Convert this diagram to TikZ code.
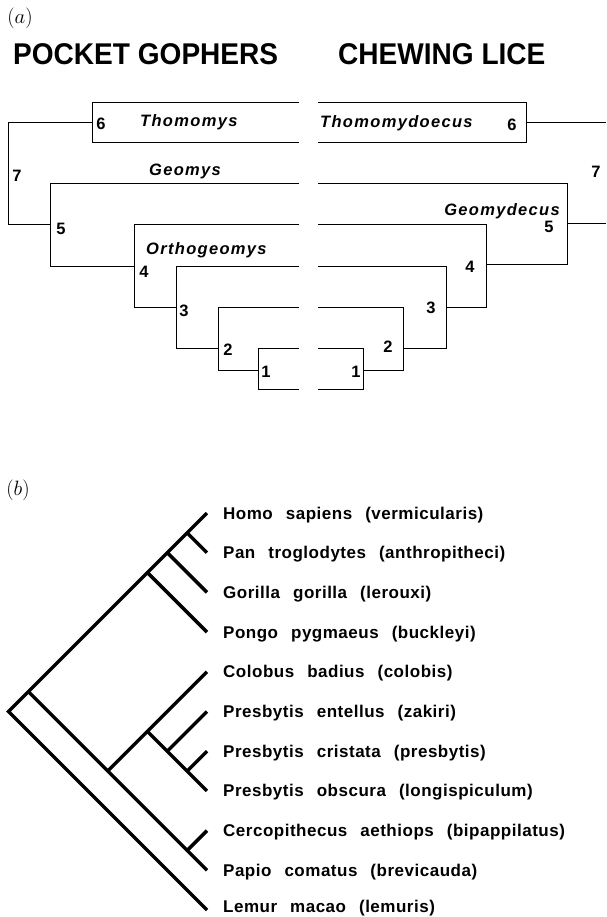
\documentclass[tikz,border=0pt]{standalone}
\usepackage{graphicx}
\usepackage{fontspec}
\setmainfont{Liberation Sans}
\newfontfamily\spacedfont[LetterSpace=8]{Liberation Sans}
\newfontfamily\hostfont[LetterSpace=3]{Liberation Sans}
\newcommand\widesp{\spaceskip=13pt\relax}
\begin{document}
\begin{tikzpicture}[x=1pt,y=-1pt,
  tree/.style={line width=1pt, line join=miter},
  clad/.style={line width=3.4pt, line join=miter},
  num/.style={font=\fontsize{16.5}{18}\selectfont\bfseries, inner sep=0pt},
  taxon/.style={font=\spacedfont\fontsize{16.5}{18}\selectfont\bfseries\itshape, inner sep=0pt, anchor=base west},
  titletext/.style={font=\fontsize{30}{32}\selectfont\bfseries, inner sep=0pt, anchor=base west},
  host/.style={font=\hostfont\fontsize{17}{19}\selectfont\bfseries, execute at begin node=\widesp, inner sep=0pt, anchor=base west},
  panel/.style={font=\fontsize{20}{22}\selectfont, inner sep=0pt}
]
\useasboundingbox[fill=white] (0,0) rectangle (606,917);

% ---------------- panel (a) ----------------
\node[panel] (pa) at (20,18) {$(a)$};
\node[titletext] (tg) at (13,65) {\scalebox{0.935}[1]{POCKET GOPHERS}};
\node[titletext] (tl) at (338,65) {\scalebox{0.935}[1]{CHEWING LICE}};

% left tree (gophers)
\draw[tree] (299,103) -- (92,103) -- (92,143) -- (299,143);
\draw[tree] (92,123) -- (8,123) -- (8,225) -- (50,225);
\draw[tree] (299,184) -- (50,184) -- (50,266) -- (134,266);
\draw[tree] (299,225) -- (134,225) -- (134,307) -- (176,307);
\draw[tree] (299,266) -- (176,266) -- (176,348) -- (218,348);
\draw[tree] (299,307) -- (218,307) -- (218,370) -- (258,370);
\draw[tree] (299,348) -- (258,348) -- (258,389) -- (299,389);

% right tree (lice)
\draw[tree] (318,103) -- (526,103) -- (526,143) -- (318,143);
\draw[tree] (526,123) -- (606,123);
\draw[tree] (318,184) -- (567,184) -- (567,264) -- (486,264);
\draw[tree] (567,224) -- (606,224);
\draw[tree] (318,225) -- (486,225) -- (486,307) -- (446,307);
\draw[tree] (318,266) -- (446,266) -- (446,348) -- (403,348);
\draw[tree] (318,307) -- (403,307) -- (403,370) -- (363,370);
\draw[tree] (318,348) -- (363,348) -- (363,389) -- (318,389);

% taxon names
\node[taxon] (thom) at (140,127) {Thomomys};
\node[taxon] (geom) at (149,176) {Geomys};
\node[taxon] (orth) at (146,254) {Orthogeomys};
\node[taxon] (thdo) at (320,128) {Thomomydoecus};
\node[taxon, anchor=base east] (gmdc) at (560,215) {Geomydecus};

% node numbers, gophers
\node[num] (g6) at (101,124) {6};
\node[num] (g7) at (17,176) {7};
\node[num] (g5) at (61,229) {5};
\node[num] (g4) at (144,272) {4};
\node[num] (g3) at (184,311) {3};
\node[num] (g2) at (228,350) {2};
\node[num] (g1) at (266,372) {1};
% node numbers, lice
\node[num] (l6) at (512,125) {6};
\node[num] (l7) at (596,172) {7};
\node[num] (l5) at (549,227) {5};
\node[num] (l4) at (470,267) {4};
\node[num] (l3) at (431,308) {3};
\node[num] (l2) at (388,347) {2};
\node[num] (l1) at (356,372) {1};

% ---------------- panel (b) ----------------
\node[panel] (pb) at (18,490) {$(b)$};

\def\tx{207}
\foreach \i in {0,...,10} {
  \coordinate (t\i) at (\tx, 513+39.7*\i);
}
\coordinate (R)   at (8.5,711.5);
\coordinate (A)   at (28.35,691.65);
\coordinate (N03) at (147.45,572.55);
\coordinate (N02) at (167.3,552.7);
\coordinate (N01) at (187.15,532.85);
\coordinate (M)   at (107.75,771.05);
\coordinate (C)   at (147.45,731.35);
\coordinate (P)   at (167.3,751.2);
\coordinate (P67) at (187.15,771.05);
\coordinate (CP)  at (187.15,850.45);

\draw[clad] (t0) -- (R) -- (t10);
\draw[clad] (A) -- (t9);
\draw[clad] (M) -- (t4);
\draw[clad] (C) -- (t7);
\draw[clad] (P) -- (t5);
\draw[clad] (P67) -- (t6);
\draw[clad] (CP) -- (t8);
\draw[clad] (N01) -- (t1);
\draw[clad] (N02) -- (t2);
\draw[clad] (N03) -- (t3);

\node[host] (h0)  at (223,519.0) {Homo sapiens (vermicularis)};
\node[host] (h1)  at (223,558.7) {Pan troglodytes (anthropitheci)};
\node[host] (h2)  at (223,598.4) {Gorilla gorilla (lerouxi)};
\node[host] (h3)  at (223,638.1) {Pongo pygmaeus (buckleyi)};
\node[host] (h4)  at (223,677.8) {Colobus badius (colobis)};
\node[host] (h5)  at (223,717.5) {Presbytis entellus (zakiri)};
\node[host] (h6)  at (223,757.2) {Presbytis cristata (presbytis)};
\node[host] (h7)  at (223,796.9) {Presbytis obscura (longispiculum)};
\node[host] (h8)  at (223,836.6) {Cercopithecus aethiops (bipappilatus)};
\node[host] (h9)  at (223,876.3) {Papio comatus (brevicauda)};
\node[host] (h10) at (223,912.0) {Lemur macao (lemuris)};
\end{tikzpicture}
\end{document}
